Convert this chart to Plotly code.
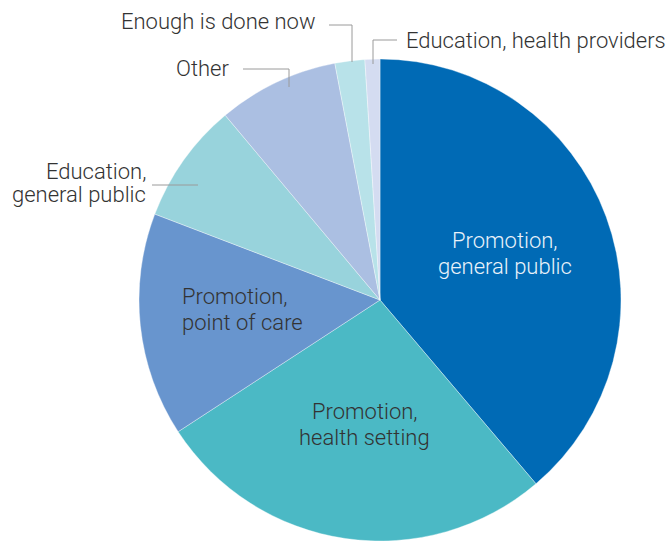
import plotly.graph_objects as go

# Share of responses by category (percent), clockwise from 12 o'clock
categories = [
    "Promotion, general public",
    "Promotion, health setting",
    "Promotion, point of care",
    "Education, general public",
    "Other",
    "Enough is done now",
    "Education, health providers",
]
shares = [38.8, 27.0, 15.0, 8.1, 8.1, 2.0, 1.0]
colors = ["#006AB5", "#4BB9C5", "#6895CE", "#98D3DC", "#ABBFE2", "#B8E2E9", "#D4DCF1"]

W, H = 668, 541
CX, CY, R = 380, 300, 241  # pie centre and radius in pixels


def px(x):
    return x / W


def py(y):
    return 1 - y / H


fig = go.Figure(
    go.Pie(
        labels=categories,
        values=shares,
        sort=False,
        direction="clockwise",
        rotation=0,
        textinfo="none",
        hoverinfo="label+percent",
        marker=dict(colors=colors, line=dict(color="rgba(255,255,255,0.6)", width=0.6)),
        domain=dict(x=[px(CX - R), px(CX + R)], y=[py(CY + R), py(CY - R)]),
        showlegend=False,
    )
)

FONT = "Roboto"
DARK = "#333333"

# (lines, x, y of first line, anchor, line step, colour)
label_layout = [
    (["Promotion,", "general public"], 505, 240, "center", 26, "#EAF2FA"),
    (["Promotion,", "health setting"], 365, 411, "center", 26, DARK),
    (["Promotion,", "point of care"], 180, 296, "left", 26, DARK),
    (["Education,", "general public"], 148, 171, "right", 23, DARK),
    (["Other"], 231, 68, "right", 0, DARK),
    (["Enough is done now"], 318, 22, "right", 0, DARK),
    (["Education, health providers"], 404, 40, "left", 0, DARK),
]

annotations = []
for lines, x, y, anchor, step, col in label_layout:
    for i, line in enumerate(lines):
        annotations.append(
            dict(
                text=line,
                x=px(x),
                y=py(y + i * step),
                xref="paper",
                yref="paper",
                xanchor=anchor,
                yanchor="middle",
                showarrow=False,
                font=dict(family=FONT, size=22, color=col, weight=300),
            )
        )

# Leader lines for the small outer slices
leaders = [
    [(329, 25), (352, 25), (352, 62)],
    [(397, 40), (373, 40), (373, 64)],
    [(243, 69), (289, 69), (289, 87)],
    [(152, 185), (198, 185)],
]
shapes = []
for pts in leaders:
    path = "M " + " L ".join(f"{px(a)},{py(b)}" for a, b in pts)
    shapes.append(
        dict(type="path", path=path, xref="paper", yref="paper",
             line=dict(color="#9A9A9A", width=1))
    )

fig.update_layout(
    width=W,
    height=H,
    margin=dict(l=0, r=0, t=0, b=0),
    paper_bgcolor="white",
    plot_bgcolor="white",
    annotations=annotations,
    shapes=shapes,
)

fig.write_html("out.html")
